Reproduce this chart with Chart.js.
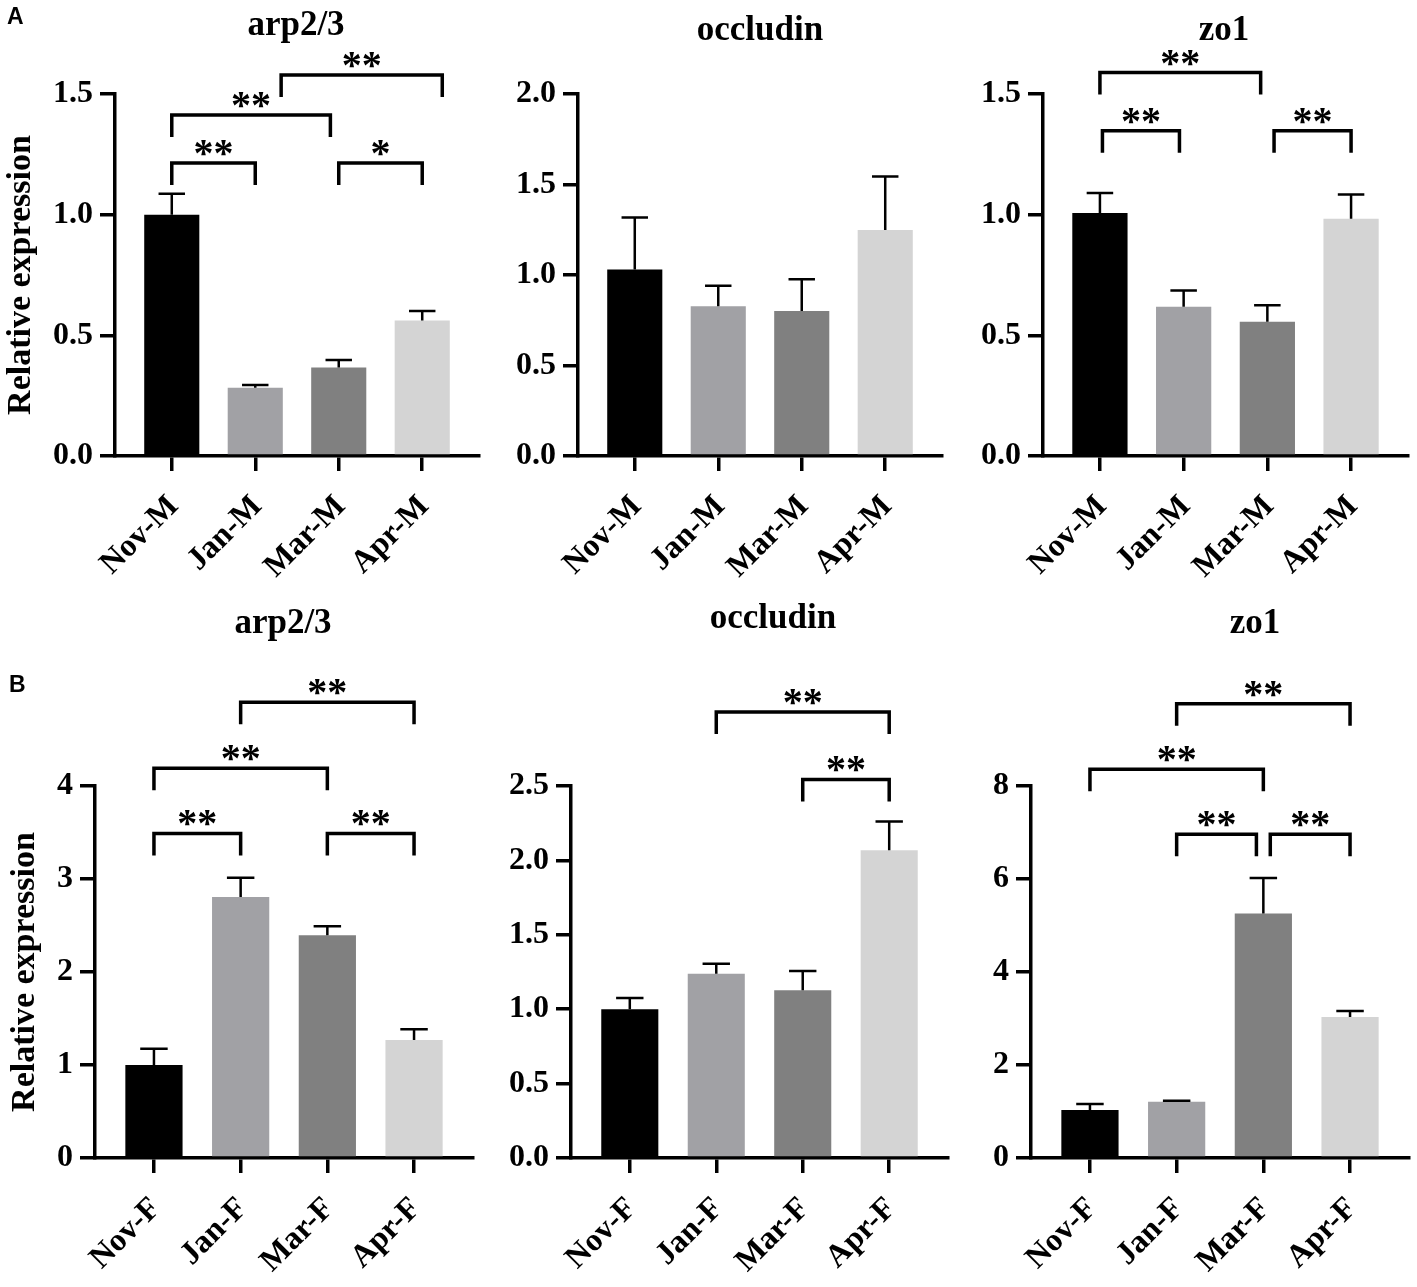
<!DOCTYPE html>
<html>
<head>
<meta charset="utf-8">
<title>arp2/3, occludin and zo1 relative expression</title>
<script src="https://cdn.jsdelivr.net/npm/chart.js@4.4.1/dist/chart.umd.min.js"></script>
<style>
  body { margin: 0; background: #fff; }
  #page { position: relative; width: 1417px; height: 1287px; overflow: hidden; }
  #page canvas { position: absolute; }
</style>
</head>
<body>
<div id="page">
  <canvas id="a-arp" width="490" height="600" style="left:0;top:0"></canvas>
  <canvas id="a-occ" width="470" height="600" style="left:490px;top:0"></canvas>
  <canvas id="a-zo" width="457" height="600" style="left:960px;top:0"></canvas>
  <canvas id="b-arp" width="490" height="687" style="left:0;top:600px"></canvas>
  <canvas id="b-occ" width="470" height="687" style="left:490px;top:600px"></canvas>
  <canvas id="b-zo" width="457" height="687" style="left:960px;top:600px"></canvas>
</div>
<script>
// Groups
const maleGroups = ["Nov-M", "Jan-M", "Mar-M", "Apr-M"];
const femaleGroups = ["Nov-F", "Jan-F", "Mar-F", "Apr-F"];
const barColors = ["#000000", "#a1a1a5", "#808080", "#d4d4d4"];

// A - male: means and upper error
const arpMale = [1.00, 0.283, 0.367, 0.561];
const arpMaleErr = [0.087, 0.011, 0.031, 0.040];
const occMale = [1.03, 0.827, 0.801, 1.248];
const occMaleErr = [0.287, 0.114, 0.175, 0.296];
const zoMale = [1.007, 0.618, 0.556, 0.983];
const zoMaleErr = [0.083, 0.068, 0.069, 0.101];

// B - female
const arpFemale = [1.00, 2.807, 2.394, 1.27];
const arpFemaleErr = [0.175, 0.207, 0.099, 0.115];
const occFemale = [1.00, 1.239, 1.128, 2.069];
const occFemaleErr = [0.076, 0.066, 0.128, 0.192];
const zoFemale = [1.03, 1.21, 5.26, 3.03];
const zoFemaleErr = [0.13, 0.02, 0.76, 0.13];

// y tick labels
const ticksArpMale = [0, 0.5, 1.0, 1.5];
const ticksOccMale = [0, 0.5, 1.0, 1.5, 2.0];
const ticksZoMale = [0, 0.5, 1.0, 1.5];
const ticksArpFemale = [0, 1, 2, 3, 4];
const ticksOccFemale = [0, 0.5, 1.0, 1.5, 2.0, 2.5];
const ticksZoFemale = [0, 2, 4, 6, 8];

// significance brackets: [from group, to group, height, label]
const sigArpMale = [[0, 1, 1.214, "**"], [2, 3, 1.214, "*"], [0, 1.9, 1.413, "**"], [1.31, 3.24, 1.579, "**"]];
const sigOccMale = [];
const sigZoMale = [[0.03, 0.95, 1.348, "**"], [2.08, 3, 1.348, "**"], [0, 1.92, 1.589, "**"]];
const sigArpFemale = [[0, 1, 3.49, "**"], [2, 3, 3.49, "**"], [0, 2, 4.19, "**"], [1, 3, 4.90, "**"]];
const sigOccFemale = [[2, 3, 2.544, "**"], [1, 3, 2.998, "**"]];
const sigZoFemale = [[1, 1.92, 6.96, "**"], [2.08, 3, 6.96, "**"], [0, 2, 8.36, "**"], [1, 3, 9.77, "**"]];

const panels = [
  { id: "a-arp", title: "arp2/3", groups: maleGroups, values: arpMale, errors: arpMaleErr, ticks: ticksArpMale, digits: 1, sig: sigArpMale, yTitle: "Relative expression", letter: "A" },
  { id: "a-occ", title: "occludin", groups: maleGroups, values: occMale, errors: occMaleErr, ticks: ticksOccMale, digits: 1, sig: sigOccMale },
  { id: "a-zo", title: "zo1", groups: maleGroups, values: zoMale, errors: zoMaleErr, ticks: ticksZoMale, digits: 1, sig: sigZoMale },
  { id: "b-arp", title: "arp2/3", groups: femaleGroups, values: arpFemale, errors: arpFemaleErr, ticks: ticksArpFemale, digits: 0, sig: sigArpFemale, yTitle: "Relative expression", letter: "B" },
  { id: "b-occ", title: "occludin", groups: femaleGroups, values: occFemale, errors: occFemaleErr, ticks: ticksOccFemale, digits: 1, sig: sigOccFemale },
  { id: "b-zo", title: "zo1", groups: femaleGroups, values: zoFemale, errors: zoFemaleErr, ticks: ticksZoFemale, digits: 0, sig: sigZoFemale }
];

// placement of each plot inside its canvas
const frames = {
  "a-arp": { left: 115, right: 11, top: 94, bottom: 144, titleX: 296, titleY: 35, yTitlePad: 1, letterX: 7, letterY: 24 },
  "a-occ": { left: 88, right: 18, top: 94, bottom: 144, titleX: 270, titleY: 40 },
  "a-zo": { left: 83, right: 9, top: 94, bottom: 144, titleX: 264, titleY: 40 },
  "b-arp": { left: 95, right: 17, top: 186, bottom: 129, titleX: 283, titleY: 33, yTitlePad: 5, letterX: 9, letterY: 92 },
  "b-occ": { left: 81, right: 12, top: 186, bottom: 129, titleX: 283, titleY: 28 },
  "b-zo": { left: 71, right: 8, top: 186, bottom: 129, titleX: 295, titleY: 33 }
};

const serif = '"Liberation Serif", "Times New Roman", serif';

// error bars, brackets, title, panel letter
function panelExtras(p, f) {
  return {
    id: "extras",
    afterDatasetsDraw(chart) {
      const ctx = chart.ctx;
      const xs = chart.scales.x, ys = chart.scales.y;
      ctx.save();
      ctx.strokeStyle = "#000";
      ctx.fillStyle = "#000";

      ctx.lineWidth = 2.5;
      chart.getDatasetMeta(0).data.forEach((bar, i) => {
        const top = ys.getPixelForValue(p.values[i] + p.errors[i]);
        const half = bar.width * 0.24;
        ctx.beginPath();
        ctx.moveTo(bar.x, bar.y);
        ctx.lineTo(bar.x, top);
        ctx.moveTo(bar.x - half, top);
        ctx.lineTo(bar.x + half, top);
        ctx.stroke();
      });

      ctx.lineWidth = 3.5;
      ctx.lineJoin = "miter";
      ctx.font = "bold 40px " + serif;
      ctx.textAlign = "center";
      ctx.textBaseline = "alphabetic";
      p.sig.forEach(([a, b, h, label]) => {
        const x1 = xs.getPixelForValue(a), x2 = xs.getPixelForValue(b), y = ys.getPixelForValue(h);
        ctx.beginPath();
        ctx.moveTo(x1, y + 22);
        ctx.lineTo(x1, y);
        ctx.lineTo(x2, y);
        ctx.lineTo(x2, y + 22);
        ctx.stroke();
        const m = ctx.measureText(label);
        const cy = y - 15;
        ctx.fillText(label, (x1 + x2) / 2, cy + (m.actualBoundingBoxAscent - m.actualBoundingBoxDescent) / 2);
      });

      ctx.font = "bold 35px " + serif;
      ctx.fillText(p.title, f.titleX, f.titleY);
      if (p.letter) {
        ctx.textAlign = "left";
        ctx.font = 'bold 23px "Liberation Sans", Arial, sans-serif';
        ctx.fillText(p.letter, f.letterX, f.letterY);
      }
      ctx.restore();
    }
  };
}

panels.forEach(p => {
  const f = frames[p.id];
  new Chart(document.getElementById(p.id), {
    type: "bar",
    data: {
      datasets: [{
        data: p.values.map((v, i) => ({ x: i, y: v })),
        backgroundColor: barColors,
        borderWidth: 0,
        barPercentage: 0.66,
        categoryPercentage: 1
      }]
    },
    options: {
      responsive: false,
      animation: false,
      layout: { padding: { left: 0, top: f.top, right: f.right, bottom: 0 } },
      plugins: { legend: { display: false }, tooltip: { enabled: false } },
      scales: {
        x: {
          type: "linear",
          min: -0.68,
          max: 3.68,
          bounds: "data",
          offset: false,
          afterBuildTicks: s => { s.ticks = p.groups.map((g, i) => ({ value: i })); },
          afterFit: s => { s.height = f.bottom; },
          grid: { offset: false, drawOnChartArea: false, drawTicks: true, tickLength: 15, color: "#000", lineWidth: 3.5 },
          border: { display: true, color: "#000", width: 3.5 },
          ticks: {
            autoSkip: false, minRotation: 45, maxRotation: 45, padding: 17, labelOffset: 2,
            color: "#000", font: { family: serif, size: 32, weight: "bold" },
            callback: v => p.groups[v]
          }
        },
        y: {
          min: 0,
          max: p.ticks[p.ticks.length - 1],
          afterBuildTicks: s => { s.ticks = p.ticks.map(v => ({ value: v })); },
          afterFit: s => { s.width = f.left; },
          grid: { drawOnChartArea: false, drawTicks: true, tickLength: 15, color: "#000", lineWidth: 3.5 },
          border: { display: true, color: "#000", width: 3.5 },
          ticks: {
            padding: 7, color: "#000", font: { family: serif, size: 32, weight: "bold" },
            callback: v => Number(v).toFixed(p.digits)
          },
          title: {
            display: !!p.yTitle,
            text: p.yTitle || "",
            color: "#000",
            font: { family: serif, size: 34, weight: "bold" },
            padding: { top: f.yTitlePad || 0, bottom: 0 }
          }
        }
      }
    },
    plugins: [panelExtras(p, f)]
  });
});
</script>
</body>
</html>
